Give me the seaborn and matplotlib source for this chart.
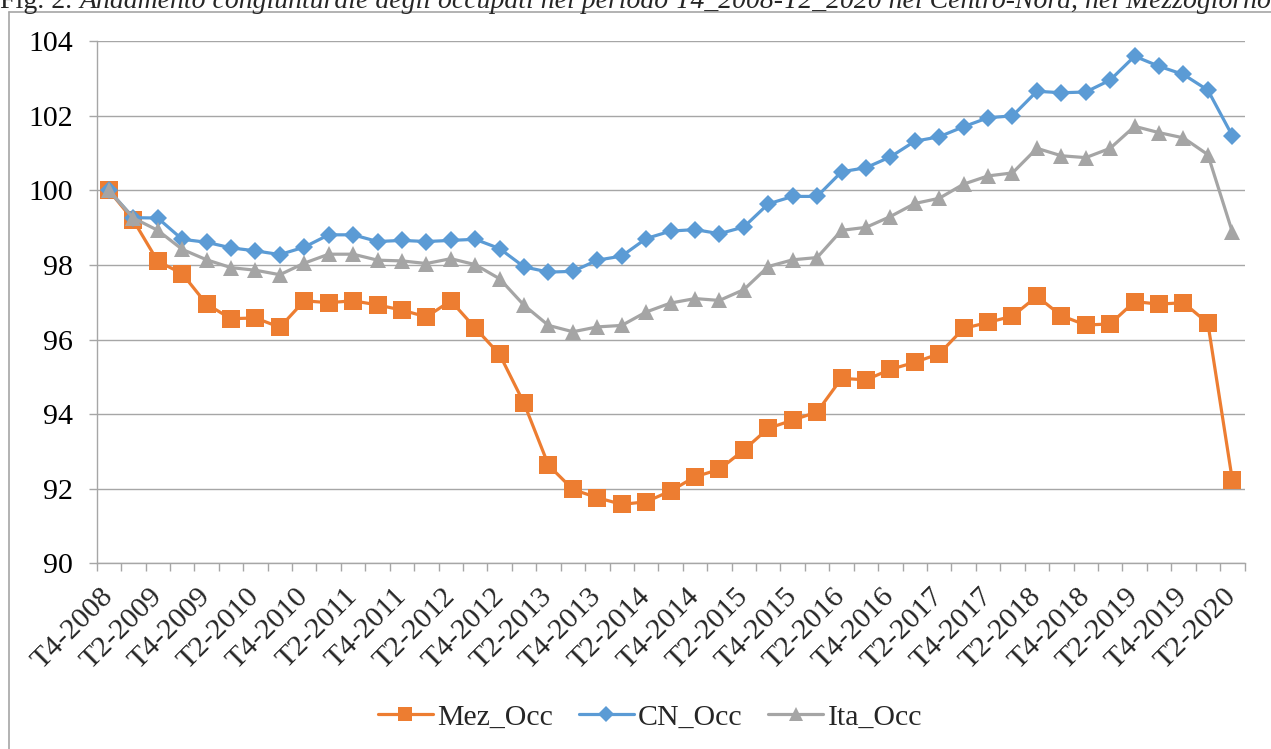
import numpy as np
import pandas as pd
import matplotlib
matplotlib.use("Agg")
import matplotlib.pyplot as plt
from matplotlib.lines import Line2D
import seaborn as sns

# ---- data ----
quarters = ["T4-2008"] + [f"T{q}-{y}" for y in range(2009, 2020) for q in (1, 2, 3, 4)] + ["T1-2020", "T2-2020"]

mez_occ = [100.00, 99.20, 98.10, 97.77, 96.95, 96.56, 96.58, 96.33, 97.04, 96.99,
           97.04, 96.93, 96.79, 96.61, 97.04, 96.31, 95.60, 94.29, 92.63, 91.98,
           91.76, 91.58, 91.65, 91.94, 92.32, 92.52, 93.04, 93.62, 93.84, 94.06,
           94.96, 94.92, 95.20, 95.39, 95.62, 96.30, 96.46, 96.63, 97.16, 96.64,
           96.39, 96.42, 97.02, 96.95, 96.99, 96.44, 92.24]

cn_occ = [100.00, 99.27, 99.26, 98.69, 98.61, 98.46, 98.38, 98.28, 98.48, 98.81,
          98.81, 98.63, 98.66, 98.63, 98.66, 98.69, 98.44, 97.95, 97.81, 97.83,
          98.13, 98.24, 98.71, 98.91, 98.95, 98.84, 99.02, 99.64, 99.84, 99.84,
          100.50, 100.61, 100.90, 101.32, 101.44, 101.71, 101.95, 102.00, 102.66, 102.62,
          102.64, 102.96, 103.60, 103.33, 103.11, 102.69, 101.47]

ita_occ = [100.00, 99.26, 98.93, 98.42, 98.14, 97.93, 97.86, 97.74, 98.05, 98.29,
           98.29, 98.13, 98.11, 98.04, 98.17, 98.01, 97.63, 96.92, 96.38, 96.21,
           96.34, 96.38, 96.74, 96.98, 97.10, 97.05, 97.34, 97.96, 98.14, 98.20,
           98.93, 99.01, 99.30, 99.65, 99.79, 100.17, 100.39, 100.47, 101.13, 100.93,
           100.88, 101.13, 101.72, 101.55, 101.41, 100.96, 98.89]

series_names = ["Mez_Occ", "CN_Occ", "Ita_Occ"]
y_ticks = [90, 92, 94, 96, 98, 100, 102, 104]
title_fig = "Fig. 2. "
title_rest = "Andamento congiunturale degli occupati nel periodo T4_2008-T2_2020 nel Centro-Nord, nel Mezzogiorno"

# ---- styling ----
sns.set_theme(style="white")
plt.rcParams["font.family"] = ["Liberation Serif", "DejaVu Serif"]

colors = {"Mez_Occ": "#ED7D31", "CN_Occ": "#5B9BD5", "Ita_Occ": "#A5A5A5"}
markers = {"Mez_Occ": "s", "CN_Occ": "D", "Ita_Occ": "^"}
msizes = {"Mez_Occ": 12.5, "CN_Occ": 9.5, "Ita_Occ": 11.5}
grid_col = "#A6A6A6"
FS = 21.5

W, H = 1271, 749
fig = plt.figure(figsize=(W / 100, H / 100), dpi=100)
ax = fig.add_axes([96.7 / W, 1 - 563.3 / H, (1244.5 - 96.7) / W, (563.3 - 41.3) / H])

x_pos = np.arange(len(quarters))
df = pd.DataFrame({"x": np.tile(x_pos, 3),
                   "val": mez_occ + cn_occ + ita_occ,
                   "serie": np.repeat(series_names, len(quarters))})

for name in series_names:
    sub = df[df["serie"] == name]
    sns.lineplot(data=sub, x="x", y="val", ax=ax, color=colors[name], lw=2.3,
                 marker=markers[name], markersize=msizes[name],
                 markeredgewidth=0, label=name, sort=False, zorder=3)

ax.set_xlim(-0.5, len(quarters) - 0.5)
ax.set_ylim(90, 104)
ax.set_xlabel("")
ax.set_ylabel("")

# grid
ax.set_yticks(y_ticks)
ax.yaxis.grid(True, color=grid_col, lw=1.0)
ax.xaxis.grid(False)
for s in ["top", "right"]:
    ax.spines[s].set_visible(False)
for s in ["left", "bottom"]:
    ax.spines[s].set_color(grid_col)
    ax.spines[s].set_linewidth(1.0)

ax.tick_params(axis="y", which="major", left=True, length=6, width=1.0, color=grid_col,
               labelsize=FS, pad=11, labelcolor="black")

# x ticks: labels every 2 quarters at centers, tick marks at boundaries
ax.set_xticks(x_pos[::2])
ax.set_xticklabels(quarters[::2], rotation=45, ha="right", va="center",
                   rotation_mode="anchor", fontsize=FS)
ax.set_xticks(np.arange(-0.5, len(quarters), 1.0), minor=True)
ax.tick_params(axis="x", which="major", bottom=True, length=0, pad=21)
ax.tick_params(axis="x", which="minor", bottom=True, length=6, width=1.0, color=grid_col)

# legend
ax.get_legend().remove()
handles = [Line2D([0], [0], color=colors[n], lw=2.3, marker=markers[n],
                  markersize=msizes[n] * 0.85, markeredgewidth=0) for n in series_names]
fig.legend(handles, series_names, loc="center", bbox_to_anchor=(650 / W, 1 - 717 / H),
           ncol=3, frameon=False, fontsize=FS, handlelength=1.85, handletextpad=0.15,
           columnspacing=0.85)

# chart border (Excel chart area frame)
fig.add_artist(Line2D([9 / W, 9 / W], [0, 1 - 11.7 / H], transform=fig.transFigure,
                      color=grid_col, lw=1.2))
fig.add_artist(Line2D([9 / W, 1], [1 - 11.7 / H, 1 - 11.7 / H], transform=fig.transFigure,
                      color=grid_col, lw=1.2))

# title (partially cut at top, as in the source)
ty = 1 - 7.5 / H
t1 = fig.text(0.0, ty, title_fig, fontsize=20, va="baseline", ha="left")
fig.canvas.draw()
bb = t1.get_window_extent(renderer=fig.canvas.get_renderer())
fig.text(bb.x1 / W, ty, title_rest, fontsize=20, style="italic", va="baseline", ha="left")

fig.savefig("out.png", dpi=100)
